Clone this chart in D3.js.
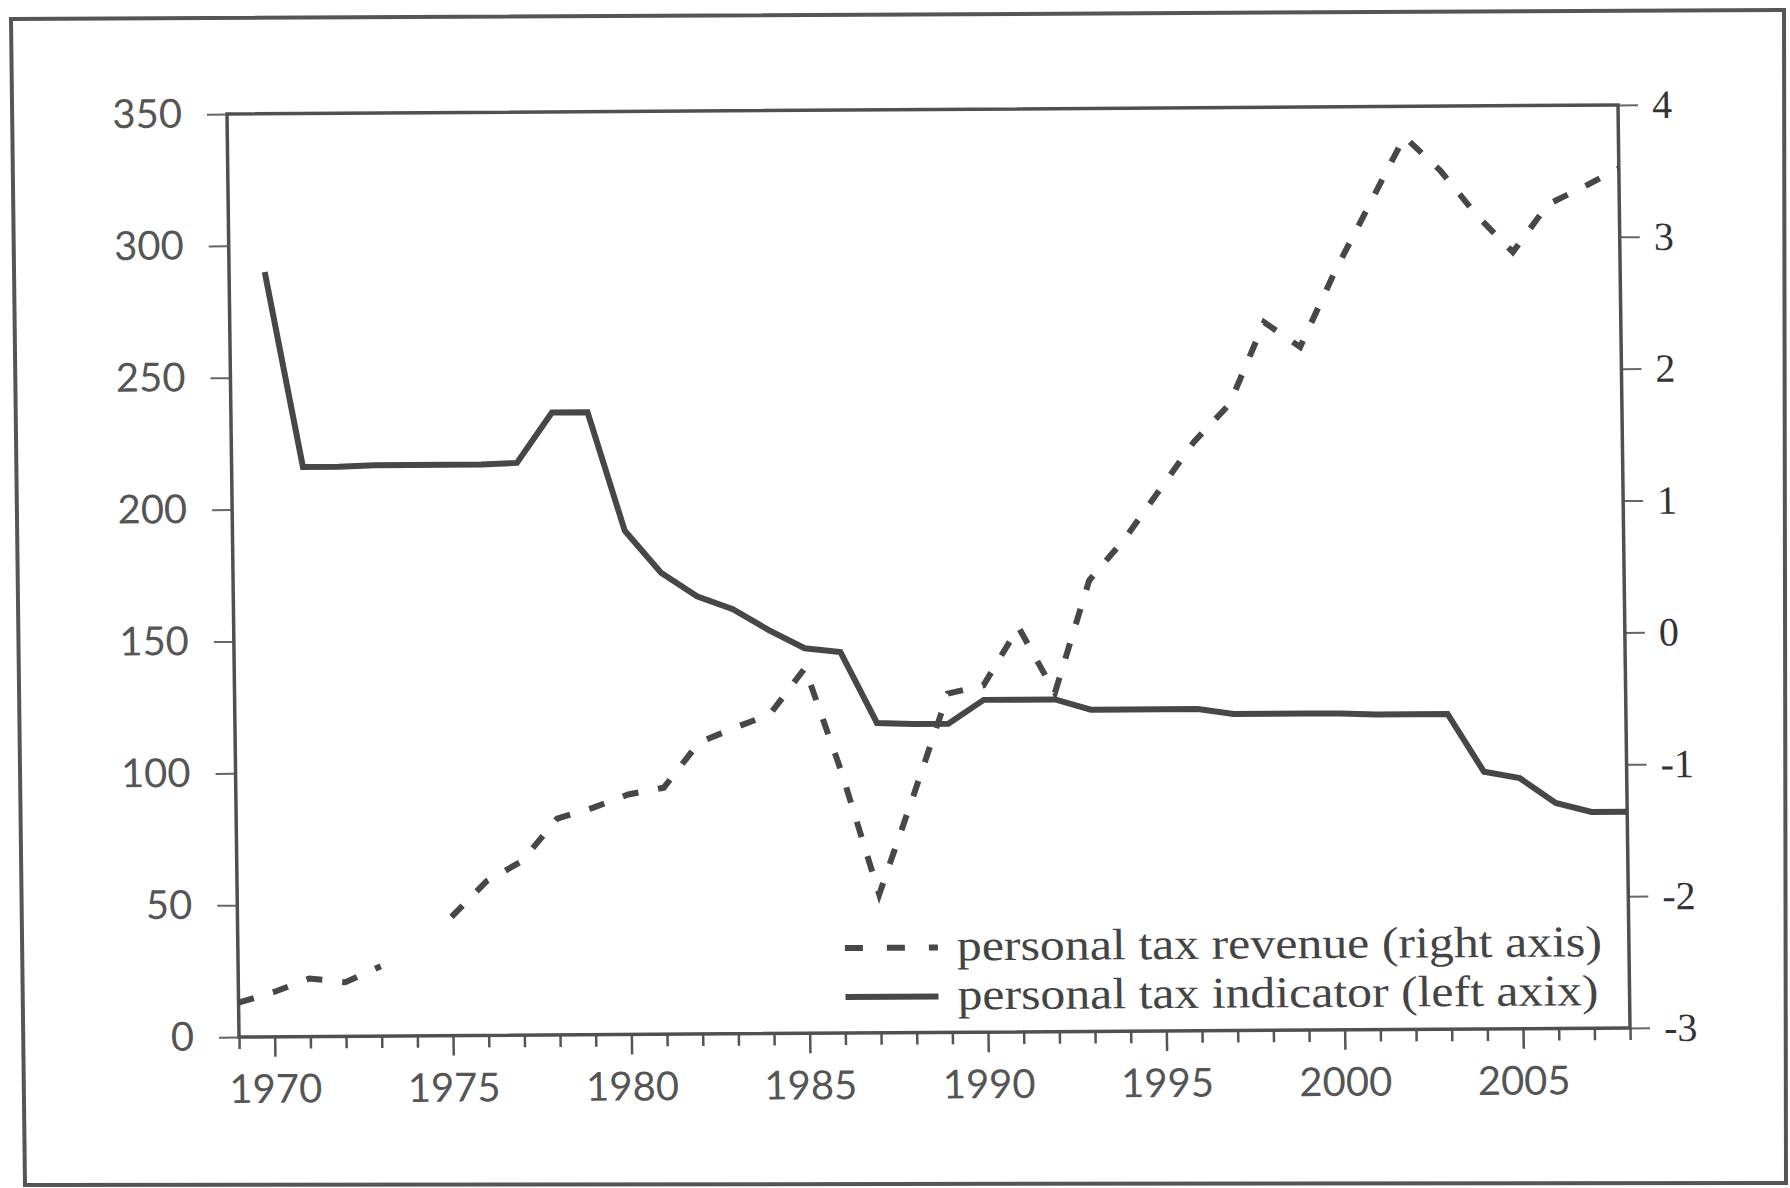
<!DOCTYPE html>
<html lang="en">
<head>
    <meta charset="UTF-8">
    <title>personal tax</title>
    <script src="https://cdnjs.cloudflare.com/ajax/libs/d3/7.8.5/d3.min.js"></script>
    <style>
        body { margin: 0; background: #fff; }
        .left text, .bottom text { font-family: Lato, "Open Sans", sans-serif; font-size: 40px; fill: #555; }
        .right text { font-family: "Liberation Serif", "DejaVu Serif", serif; font-size: 40px; fill: #333; }
        .legend text { font-family: "Liberation Serif", serif; font-size: 44px; fill: #444; }
    </style>
</head>
<body>
<script>
    // data
    var years = [1969, 1970, 1971, 1972, 1973, 1974, 1975, 1976, 1977, 1978, 1979,
        1980, 1981, 1982, 1983, 1984, 1985, 1986, 1987, 1988, 1989,
        1990, 1991, 1992, 1993, 1994, 1995, 1996, 1997, 1998, 1999,
        2000, 2001, 2002, 2003, 2004, 2005, 2006, 2007, 2008];

    // personal tax indicator (left axis)
    var indicator = [null, 290, 216, 216, 216.5, 216.5, 216.5, 216.5, 217, 236, 236,
        191, 175, 166, 161, 153, 146, 144.5, 117.5, 117, 117,
        126, 126, 126, 122, 122, 122, 122, 120, 120, 120,
        120, 119.5, 119.5, 119.5, 97.5, 95, 85.5, 82, 82];

    // personal tax revenue (right axis)
    var revenue = [-2.74, -2.66, -2.56, -2.59, -2.47, null, -2.10, -1.83, -1.68, -1.36, -1.28,
        -1.18, -1.13, -0.79, -0.68, -0.58, -0.23, -1.03, -1.95, -1.20, -0.43,
        -0.37, 0.07, -0.43, 0.42, 0.73, 1.10, 1.47, 1.75, 2.37, 2.18,
        2.75, 3.26, 3.77, 3.51, 3.17, 2.89, 3.25, 3.38, 3.52];

    var leftTicks = [0, 50, 100, 150, 200, 250, 300, 350];
    var rightTicks = [-3, -2, -1, 0, 1, 2, 3, 4];
    var yearLabels = [1970, 1975, 1980, 1985, 1990, 1995, 2000, 2005];
    var legendNames = ["personal tax revenue (right axis)", "personal tax indicator (left axix)"];

    var W = 1790, H = 1188;
    var L = 227, T = 114, pw = 1391, ph = 923;
    // the scan is a bit skewed
    var a = 0.013, b = -0.00647;

    var svg = d3.select("body").append("svg")
        .attr("width", W).attr("height", H);

    // outer frame of the scanned page
    svg.append("polygon")
        .attr("points", "11,19 1784,10 1786,1183 25,1185")
        .attr("fill", "none").attr("stroke", "#555").attr("stroke-width", 4);

    var g = svg.append("g")
        .attr("transform", "matrix(1," + b + "," + a + ",1," + (-a * T) + "," + (-b * L) + ")");

    var x = d3.scaleLinear().domain([1969, 2008]).range([L, L + pw]);
    var yL = d3.scaleLinear().domain([0, 350]).range([T + ph, T]);
    var yR = d3.scaleLinear().domain([-3, 4]).range([T + ph, T]);

    // left axis
    var gl = g.append("g").attr("class", "left")
        .attr("transform", "translate(" + L + ",0)")
        .call(d3.axisLeft(yL).tickValues(leftTicks).tickSize(20).tickPadding(25));
    gl.select(".domain").remove();
    gl.selectAll("line").attr("stroke", "#666").attr("stroke-width", 2);

    // right axis
    var gr = g.append("g").attr("class", "right")
        .attr("transform", "translate(" + (L + pw) + ",0)")
        .call(d3.axisRight(yR).tickValues(rightTicks).tickSize(20).tickPadding(14)
            .tickFormat(function (d) { return d < 0 ? "-" + Math.abs(d) : d; }));
    gr.select(".domain").remove();
    gr.selectAll("line").attr("stroke", "#666").attr("stroke-width", 2);

    // bottom axis, a tick every year, long ones every 5
    var gb = g.append("g").attr("class", "bottom")
        .attr("transform", "translate(0," + (T + ph) + ")")
        .call(d3.axisBottom(x).tickValues(years).tickSize(12)
            .tickFormat(function (d) { return yearLabels.indexOf(d) >= 0 ? d : ""; }));
    gb.select(".domain").remove();
    gb.selectAll("line").attr("stroke", "#555").attr("stroke-width", 2.5)
        .attr("y2", function (d) { return yearLabels.indexOf(d) >= 0 ? 20 : 12; });
    gb.selectAll("text").attr("y", 66).attr("dy", null);

    // plot box
    g.append("rect")
        .attr("x", L).attr("y", T).attr("width", pw).attr("height", ph)
        .attr("fill", "none").attr("stroke", "#505050").attr("stroke-width", 3.5);

    var revData = years.map(function (d, i) { return {year: d, v: revenue[i]}; });
    var indData = years.map(function (d, i) { return {year: d, v: indicator[i]}; });

    var lineR = d3.line()
        .defined(function (d) { return d.v != null; })
        .x(function (d) { return x(d.year); })
        .y(function (d) { return yR(d.v); });
    var lineL = d3.line()
        .defined(function (d) { return d.v != null; })
        .x(function (d) { return x(d.year); })
        .y(function (d) { return yL(d.v); });

    g.append("path").attr("d", lineR(revData))
        .attr("fill", "none").attr("stroke", "#474747").attr("stroke-width", 6)
        .attr("stroke-dasharray", "16,20");

    g.append("path").attr("d", lineL(indData))
        .attr("fill", "none").attr("stroke", "#474747").attr("stroke-width", 6)
        .attr("stroke-linejoin", "miter");

    // legend
    var lg = g.append("g").attr("class", "legend");
    var legendStyle = [{dash: "18,24"}, {dash: null}];
    var textWidth = [645, 641];
    legendNames.forEach(function (name, i) {
        var ly = 952 + i * 49;
        lg.append("line")
            .attr("x1", 834).attr("x2", 927).attr("y1", ly).attr("y2", ly)
            .attr("stroke", "#474747").attr("stroke-width", 6)
            .attr("stroke-dasharray", legendStyle[i].dash);
        lg.append("text")
            .attr("x", 946).attr("y", ly + 13)
            .attr("textLength", textWidth[i]).attr("lengthAdjust", "spacingAndGlyphs")
            .text(name);
    });
</script>
</body>
</html>
